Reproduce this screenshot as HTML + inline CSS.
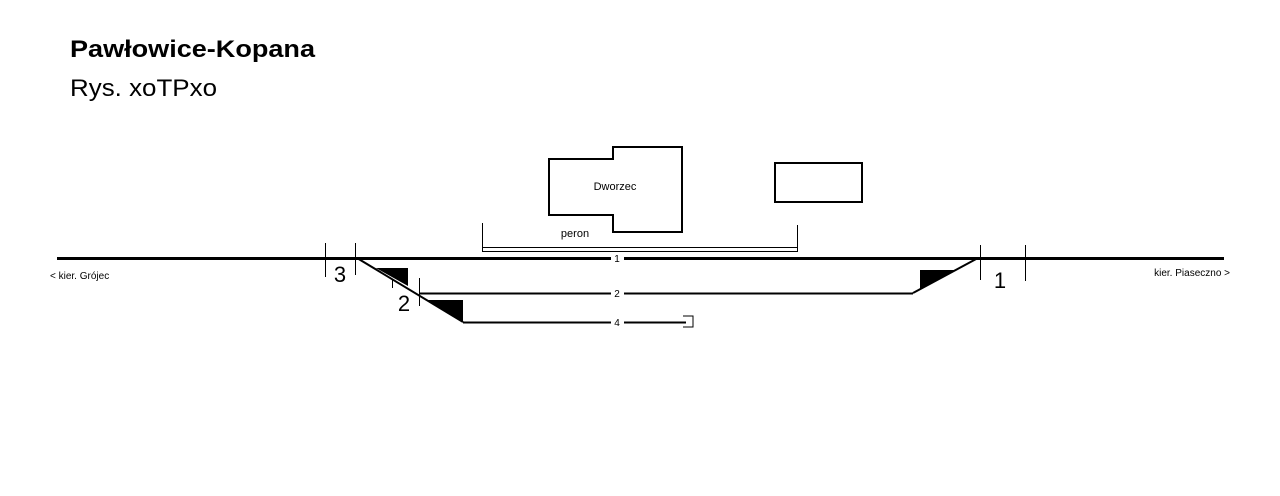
<!DOCTYPE html>
<html><head><meta charset="utf-8"><style>html,body{margin:0;padding:0;background:#fff;width:1280px;height:496px;overflow:hidden}</style></head>
<body>
<svg width="1280" height="496" viewBox="0 0 1280 496" xmlns="http://www.w3.org/2000/svg" font-family="Liberation Sans, sans-serif">
<text x="70" y="57" font-size="24" font-weight="bold" textLength="245" lengthAdjust="spacingAndGlyphs">Pawłowice-Kopana</text>
<text x="70" y="96" font-size="24" textLength="147" lengthAdjust="spacingAndGlyphs">Rys. xoTPxo</text>
<!-- building -->
<polygon points="549,159 613,159 613,147 682,147 682,232 613,232 613,215 549,215" fill="none" stroke="#000" stroke-width="2"/>
<text x="615" y="190" font-size="11" text-anchor="middle">Dworzec</text>
<rect x="775" y="163" width="87" height="39" fill="none" stroke="#000" stroke-width="2"/>
<!-- peron -->
<line x1="482.5" y1="223" x2="482.5" y2="252" stroke="#000" stroke-width="1"/>
<line x1="797.5" y1="225" x2="797.5" y2="252" stroke="#000" stroke-width="1"/>
<line x1="482" y1="247.5" x2="798" y2="247.5" stroke="#000" stroke-width="1"/>
<line x1="482" y1="251.5" x2="798" y2="251.5" stroke="#000" stroke-width="1"/>
<text x="575" y="237" font-size="11" text-anchor="middle">peron</text>
<!-- main track -->
<line x1="57" y1="258.5" x2="611" y2="258.5" stroke="#000" stroke-width="3"/>
<line x1="624" y1="258.5" x2="1224" y2="258.5" stroke="#000" stroke-width="3"/>
<text x="617" y="262" font-size="10" text-anchor="middle">1</text>
<!-- track 2 -->
<line x1="419" y1="293.5" x2="611" y2="293.5" stroke="#000" stroke-width="2"/>
<line x1="624" y1="293.5" x2="913" y2="293.5" stroke="#000" stroke-width="2"/>
<text x="617" y="297" font-size="10" text-anchor="middle">2</text>
<!-- track 4 -->
<line x1="463" y1="322.5" x2="611" y2="322.5" stroke="#000" stroke-width="2"/>
<line x1="624" y1="322.5" x2="686" y2="322.5" stroke="#000" stroke-width="2"/>
<text x="617" y="326" font-size="10" text-anchor="middle">4</text>
<polyline points="683,316 693,316 693,327 683,327" fill="none" stroke="#000" stroke-width="1"/>
<!-- left diagonal -->
<line x1="357" y1="258" x2="463" y2="322" stroke="#000" stroke-width="2"/>
<polygon points="376,268 408,268 408,286" fill="#000"/>
<polygon points="428,300 463,300 463,322" fill="#000"/>
<!-- right diagonal -->
<line x1="913" y1="293" x2="978" y2="258" stroke="#000" stroke-width="2"/>
<polygon points="920,270 956,270 920,290" fill="#000"/>
<!-- ticks -->
<g stroke="#000" stroke-width="1">
<line x1="325.5" y1="243" x2="325.5" y2="277"/>
<line x1="355.5" y1="243" x2="355.5" y2="275"/>
<line x1="392.5" y1="279" x2="392.5" y2="288"/>
<line x1="419.5" y1="278" x2="419.5" y2="306"/>
<line x1="980.5" y1="245" x2="980.5" y2="280"/>
<line x1="1025.5" y1="245" x2="1025.5" y2="281"/>
</g>
<text x="340" y="282" font-size="22" text-anchor="middle">3</text>
<text x="404" y="311" font-size="22" text-anchor="middle">2</text>
<text x="1000" y="288" font-size="22" text-anchor="middle">1</text>
<text x="50" y="279" font-size="10">&lt; kier. Grójec</text>
<text x="1230" y="276" font-size="10" text-anchor="end">kier. Piaseczno &gt;</text>
</svg>
</body></html>
